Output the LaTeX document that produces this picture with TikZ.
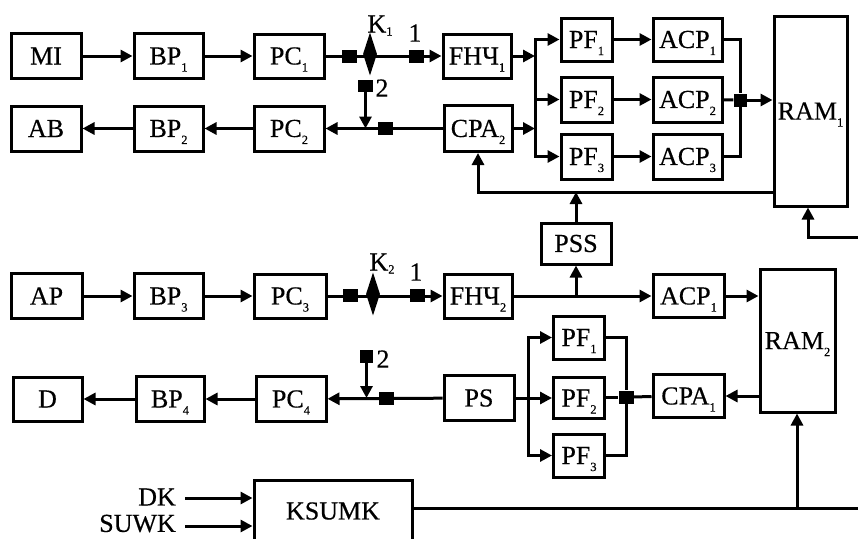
\documentclass[tikz,border=0pt]{standalone}
\usepackage{fontspec}
\setmainfont{Liberation Serif}
\newfontfamily\thickserif{Liberation Serif}[FakeBold=0.4]
\usetikzlibrary{arrows.meta,shapes.geometric}
\newcommand\sbx[1]{\raisebox{-7pt}[0pt][0pt]{\fontsize{12.5}{12.5}\selectfont #1}}
\newcommand\sbk[1]{\raisebox{-3pt}[0pt][0pt]{\fontsize{12.5}{12.5}\selectfont #1}}
\begin{document}
\begin{tikzpicture}[x=1pt,y=-1pt,
  box/.style={draw, line width=3pt, inner sep=0pt, font=\thickserif\fontsize{26}{28}\selectfont},
  conn/.style={line width=3pt},
  >={Triangle[length=12pt,width=12pt]},
  sq/.style={fill=black, inner sep=0pt, minimum width=15pt, minimum height=13pt},
  dia/.style={diamond, fill=black, inner sep=0pt, minimum width=14pt, minimum height=43pt},
  lbl/.style={inner sep=0pt, font=\thickserif\fontsize{26}{28}\selectfont}]
\useasboundingbox (0,0) rectangle (858,538);
\clip (0,0) rectangle (858,538);
% ---- row 1 / 2
\node[box,minimum width=70pt,minimum height=45pt] (mi) at (46,56) {MI};
\node[box,minimum width=69pt,minimum height=45pt] (bp1) at (168.5,56) {BP\sbx{1}};
\node[box,minimum width=70pt,minimum height=44pt] (pc1) at (289,56) {PC\sbx{1}};
\node[box,minimum width=68pt,minimum height=44pt] (fh1) at (477,56) {FHЧ\sbx{1}};
\node[box,minimum width=51pt,minimum height=43pt] (pf1) at (586.5,39.5) {PF\sbx{1}};
\node[box,minimum width=51pt,minimum height=45pt] (pf2) at (586.5,99.5) {PF\sbx{2}};
\node[box,minimum width=51pt,minimum height=45pt] (pf3) at (586.5,156.5) {PF\sbx{3}};
\node[box,minimum width=69pt,minimum height=43pt] (acp1) at (687.5,39.5) {ACP\sbx{1}};
\node[box,minimum width=69pt,minimum height=45pt] (acp2) at (687.5,99.5) {ACP\sbx{2}};
\node[box,minimum width=69pt,minimum height=45pt] (acp3) at (687.5,156.5) {ACP\sbx{3}};
\node[box,minimum width=73pt,minimum height=190pt] (ram1) at (810.5,111) {RAM\sbx{1}};
\node[box,minimum width=70pt,minimum height=45pt] (ab) at (46,128.5) {AB};
\node[box,minimum width=69pt,minimum height=45pt] (bp2) at (168.5,128.5) {BP\sbx{2}};
\node[box,minimum width=70pt,minimum height=45pt] (pc2) at (289,128.5) {PC\sbx{2}};
\node[box,minimum width=68pt,minimum height=46pt] (cpa2) at (478,128.5) {CPA\sbx{2}};
\node[box,minimum width=70pt,minimum height=41pt] (pss) at (576,243.5) {PSS};
% ---- row 3 / 4
\node[box,minimum width=71pt,minimum height=45pt] (ap) at (46.5,296) {AP};
\node[box,minimum width=69pt,minimum height=45pt] (bp3) at (168.5,296) {BP\sbx{3}};
\node[box,minimum width=72pt,minimum height=44pt] (pc3) at (290,296) {PC\sbx{3}};
\node[box,minimum width=68pt,minimum height=44pt] (fh2) at (478,296) {FHЧ\sbx{2}};
\node[box,minimum width=71pt,minimum height=43pt] (acpb) at (688.5,296) {ACP\sbx{1}};
\node[box,minimum width=75pt,minimum height=143pt] (ram2) at (797.5,340.5) {RAM\sbx{2}};
\node[box,minimum width=69pt,minimum height=44pt] (d) at (47.5,399) {D};
\node[box,minimum width=68pt,minimum height=45pt] (bp4) at (170,399) {BP\sbx{4}};
\node[box,minimum width=70pt,minimum height=45pt] (pc4) at (291,399) {PC\sbx{4}};
\node[box,minimum width=70pt,minimum height=45pt] (ps) at (479,398) {PS};
\node[box,minimum width=51pt,minimum height=43pt] (pfa) at (579,337.5) {PF\sbx{1}};
\node[box,minimum width=51pt,minimum height=41pt] (pfb) at (579,398) {PF\sbx{2}};
\node[box,minimum width=51pt,minimum height=43pt] (pfc) at (579,455.5) {PF\sbx{3}};
\node[box,minimum width=71pt,minimum height=43pt] (cpa1) at (688.5,396) {CPA\sbx{1}};
\node[box,minimum width=158pt,minimum height=62pt] (ksumk) at (333,511) {KSUMK};
\node[lbl,anchor=east] (dk) at (176,497) {DK};
\node[lbl,anchor=east] (suwk) at (176,523.5) {SUWK};
% ---- marks
\node[sq] (s1a) at (349.5,56) {};
\node[dia] (k1) at (370,54) {};
\node[sq] (s1b) at (416,56) {};
\node[sq,minimum height=12pt] (s2t) at (365.5,86) {};
\node[sq] (s2r) at (385,128.5) {};
\node[sq,minimum width=13pt] (s3) at (740,100) {};
\node[sq] (s5a) at (350,295.5) {};
\node[dia] (k2) at (373,294) {};
\node[sq] (s5b) at (417.5,295.5) {};
\node[sq,minimum width=13pt] (s6t) at (366.5,356.5) {};
\node[sq] (s6r) at (386.5,398) {};
\node[sq] (s7) at (626,397) {};
% ---- labels
\node[lbl] (k1l) at (380,24) {K\sbk{1}};
\node[lbl] (one1) at (415,33) {1};
\node[lbl] (two1) at (382,88) {2};
\node[lbl] (k2l) at (382,262) {K\sbk{2}};
\node[lbl] (one2) at (416,272) {1};
\node[lbl] (two2) at (383,359) {2};
% ---- coordinates
\coordinate (bA) at (535,56);
\coordinate (bB) at (535,128.5);
\coordinate (bC) at (535,99.5);
\coordinate (fb) at (478,192);
\coordinate (j2) at (365.5,128.5);
\coordinate (r1in) at (808,237);
\coordinate (edge1) at (862,237);
\coordinate (cA) at (528,398);
\coordinate (j6) at (366.5,398);
\coordinate (kr) at (797,508.5);
\coordinate (edge2) at (862,508.5);
\coordinate (dkin) at (185,498);
\coordinate (suin) at (185,526);
% ---- connectors row 1/2
\draw[conn,->] (mi) -- (bp1);
\draw[conn,->] (bp1) -- (pc1);
\draw[conn,->] (pc1) -- (fh1);
\draw[conn,->] (fh1) -- (bA);
\draw[conn] (bA) -- (bB);
\draw[conn,->] (bA) |- (pf1);
\draw[conn,->] (bC) -- (pf2);
\draw[conn,->] (bB) |- (pf3);
\draw[conn,->] (cpa2) -- (bB);
\draw[conn,->] (pf1) -- (acp1);
\draw[conn,->] (pf2) -- (acp2);
\draw[conn,->] (pf3) -- (acp3);
\draw[conn] (acp1) -| (s3);
\draw[conn] (acp3) -| (s3);
\draw[conn] (acp2) -- (s3);
\draw[conn,->] (s3) -- (s3 -| ram1.west);
\draw[conn,->] (cpa2) -- (pc2);
\draw[conn,->] (pc2) -- (bp2);
\draw[conn,->] (bp2) -- (ab);
\draw[conn,->] (s2t) -- (j2);
\draw[conn,->] (ram1.west |- fb) -- (fb) -- (cpa2.south);
\draw[conn,->] (pss.north) -- (pss.north |- fb);
\draw[conn,->] (edge1) -- (r1in) -- (ram1.south -| r1in);
% ---- connectors row 3/4
\draw[conn,->] (ap) -- (bp3);
\draw[conn,->] (bp3) -- (pc3);
\draw[conn,->] (pc3) -- (fh2);
\draw[conn,->] (fh2) -- (acpb);
\draw[conn,->] (pss.south |- fh2) -- (pss.south);
\draw[conn,->] (acpb) -- (acpb -| ram2.west);
\draw[conn,->] (ps) -- (pc4);
\draw[conn,->] (pc4) -- (bp4);
\draw[conn,->] (bp4) -- (d);
\draw[conn,->] (s6t) -- (j6);
\draw[conn,->] (ps) -- (pfb);
\draw[conn,->] (cA) |- (pfa);
\draw[conn,->] (cA) |- (pfc);
\draw[conn] (pfa) -| (s7);
\draw[conn] (pfc) -| (s7);
\draw[conn] (s7) -- (cpa1);
\draw[conn] (pfb.east |- s7) -- (s7);
\draw[conn,->] (ram2.west |- cpa1) -- (cpa1);
% ---- KSUMK
\draw[conn,->] (dkin) -- (ksumk.west |- dkin);
\draw[conn,->] (suin) -- (ksumk.west |- suin);
\draw[conn] (ksumk.east |- kr) -- (edge2);
\draw[conn,->] (kr) -- (ram2.south -| kr);
\end{tikzpicture}
\end{document}
